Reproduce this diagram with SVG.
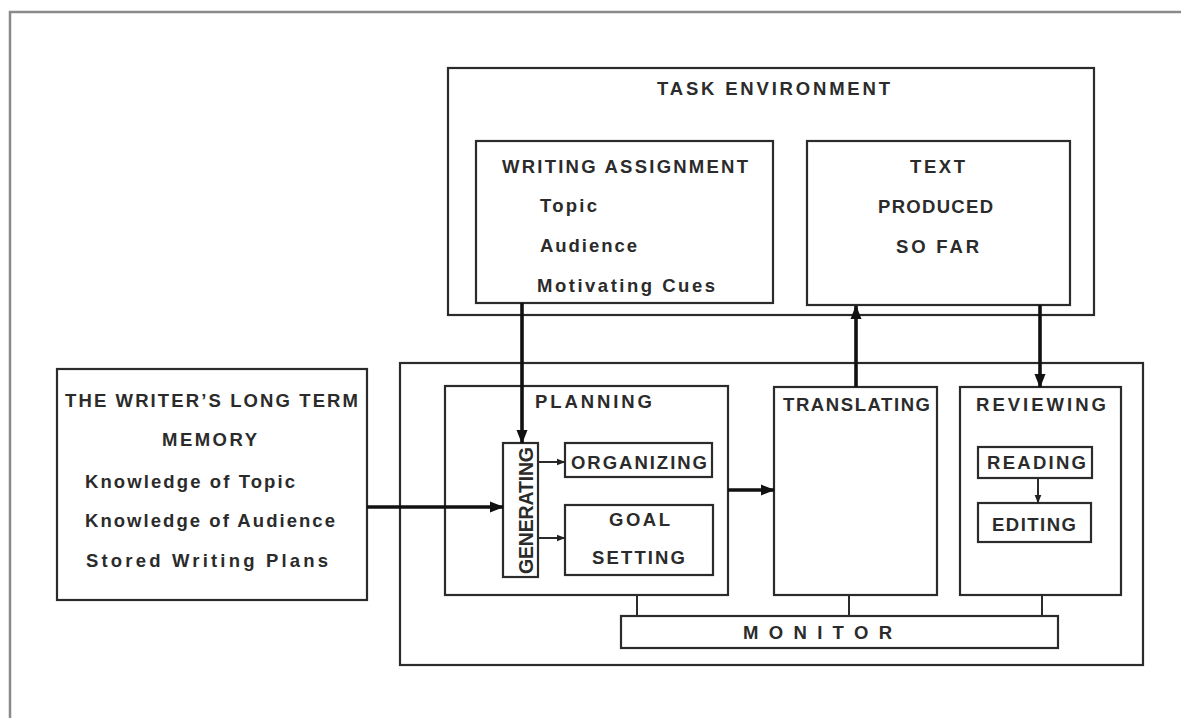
<svg xmlns="http://www.w3.org/2000/svg" width="1181" height="718" viewBox="0 0 1181 718">
<style>
.box{fill:none;stroke:#2b2b2b;stroke-width:2.2}
.t{font-family:"Liberation Sans",Arial,sans-serif;font-weight:bold;font-size:18.5px;fill:#2b2b2b}
.thick{stroke:#111;stroke-width:3.6;fill:none}
.thin{stroke:#2b2b2b;stroke-width:2;fill:none}
</style>
<defs>
<marker id="big" markerUnits="userSpaceOnUse" markerWidth="14" markerHeight="14" viewBox="0 0 14 14" refX="13" refY="7" orient="auto">
<path d="M0,1.5 L14,7 L0,12.5 Z" fill="#111"/>
</marker>
<marker id="small" markerUnits="userSpaceOnUse" markerWidth="9" markerHeight="9" viewBox="0 0 9 9" refX="8.5" refY="4.5" orient="auto">
<path d="M0,1 L9,4.5 L0,8 Z" fill="#222"/>
</marker>
</defs>
<rect width="1181" height="718" fill="#fff"/>
<path d="M10,718 L10,12 L1181,12" fill="none" stroke="#8a8a8a" stroke-width="2.5"/>

<g id="task-environment">
<rect class="box" x="448" y="68" width="646" height="247"/>
<text class="t" x="657" y="95" textLength="233" lengthAdjust="spacing">TASK ENVIRONMENT</text>
</g>
<g id="writing-assignment">
<rect class="box" x="476" y="141" width="297" height="162"/>
<text class="t" x="502" y="173" textLength="246" lengthAdjust="spacing">WRITING ASSIGNMENT</text>
<text class="t" x="540" y="212" textLength="57" lengthAdjust="spacing">Topic</text>
<text class="t" x="540" y="252" textLength="97" lengthAdjust="spacing">Audience</text>
<text class="t" x="537" y="292" textLength="178" lengthAdjust="spacing">Motivating Cues</text>
</g>
<g id="text-produced">
<rect class="box" x="807" y="141" width="263" height="164"/>
<text class="t" x="910" y="173" textLength="55" lengthAdjust="spacing">TEXT</text>
<text class="t" x="878" y="213" textLength="115" lengthAdjust="spacing">PRODUCED</text>
<text class="t" x="896" y="253" textLength="83" lengthAdjust="spacing">SO FAR</text>
</g>
<g id="long-term-memory">
<rect class="box" x="57" y="369" width="310" height="231"/>
<text class="t" x="65" y="407" textLength="293" lengthAdjust="spacing">THE WRITER’S LONG TERM</text>
<text class="t" x="162" y="446" textLength="95" lengthAdjust="spacing">MEMORY</text>
<text class="t" x="85" y="488" textLength="210" lengthAdjust="spacing">Knowledge of Topic</text>
<text class="t" x="85" y="527" textLength="250" lengthAdjust="spacing">Knowledge of Audience</text>
<text class="t" x="86" y="567" textLength="242" lengthAdjust="spacing">Stored Writing Plans</text>
</g>
<g id="process">
<rect class="box" x="400" y="363" width="743" height="302"/>
</g>
<g id="planning">
<rect class="box" x="445" y="386" width="283" height="209"/>
<text class="t" x="535" y="408" textLength="117" lengthAdjust="spacing">PLANNING</text>
</g>
<g id="generating">
<rect class="box" x="503" y="443" width="35" height="134"/>
<text class="t" style="font-size:19.5px" transform="translate(533,574) rotate(-90)" x="0" y="0" textLength="127" lengthAdjust="spacing">GENERATING</text>
</g>
<g id="organizing">
<rect class="box" x="565" y="443" width="147" height="34"/>
<text class="t" x="571" y="469" textLength="136" lengthAdjust="spacing">ORGANIZING</text>
</g>
<g id="goal-setting">
<rect class="box" x="565" y="505" width="148" height="70"/>
<text class="t" x="609" y="526" textLength="61" lengthAdjust="spacing">GOAL</text>
<text class="t" x="592" y="564" textLength="93" lengthAdjust="spacing">SETTING</text>
</g>
<g id="translating">
<rect class="box" x="774" y="387" width="163" height="208"/>
<text class="t" x="783" y="411" textLength="147" lengthAdjust="spacing">TRANSLATING</text>
</g>
<g id="reviewing">
<rect class="box" x="960" y="387" width="161" height="208"/>
<text class="t" x="976" y="411" textLength="130" lengthAdjust="spacing">REVIEWING</text>
</g>
<g id="reading">
<rect class="box" x="978" y="447" width="114" height="31"/>
<text class="t" x="987" y="469" textLength="99" lengthAdjust="spacing">READING</text>
</g>
<g id="editing">
<rect class="box" x="978" y="503" width="113" height="39"/>
<text class="t" x="992" y="531" textLength="84" lengthAdjust="spacing">EDITING</text>
</g>
<g id="monitor">
<rect class="box" x="621" y="616" width="437" height="32"/>
<text class="t" x="743" y="639" textLength="149" lengthAdjust="spacing">MONITOR</text>
</g>

<g id="connectors">
<line class="thick" x1="522" y1="303" x2="522" y2="443" marker-end="url(#big)"/>
<line class="thick" x1="856" y1="387" x2="856" y2="306" marker-end="url(#big)"/>
<line class="thick" x1="1040" y1="305" x2="1040" y2="387" marker-end="url(#big)"/>
<line class="thick" x1="367" y1="507" x2="503" y2="507" marker-end="url(#big)"/>
<line class="thick" x1="728" y1="490" x2="774" y2="490" marker-end="url(#big)"/>
<line class="thin" x1="538" y1="462" x2="565" y2="462" marker-end="url(#small)"/>
<line class="thin" x1="538" y1="538" x2="565" y2="538" marker-end="url(#small)"/>
<line class="thin" x1="1038" y1="478" x2="1038" y2="503" marker-end="url(#small)"/>
<line class="thin" x1="637" y1="595" x2="637" y2="616"/>
<line class="thin" x1="849" y1="595" x2="849" y2="616"/>
<line class="thin" x1="1042" y1="595" x2="1042" y2="616"/>
</g>
</svg>
